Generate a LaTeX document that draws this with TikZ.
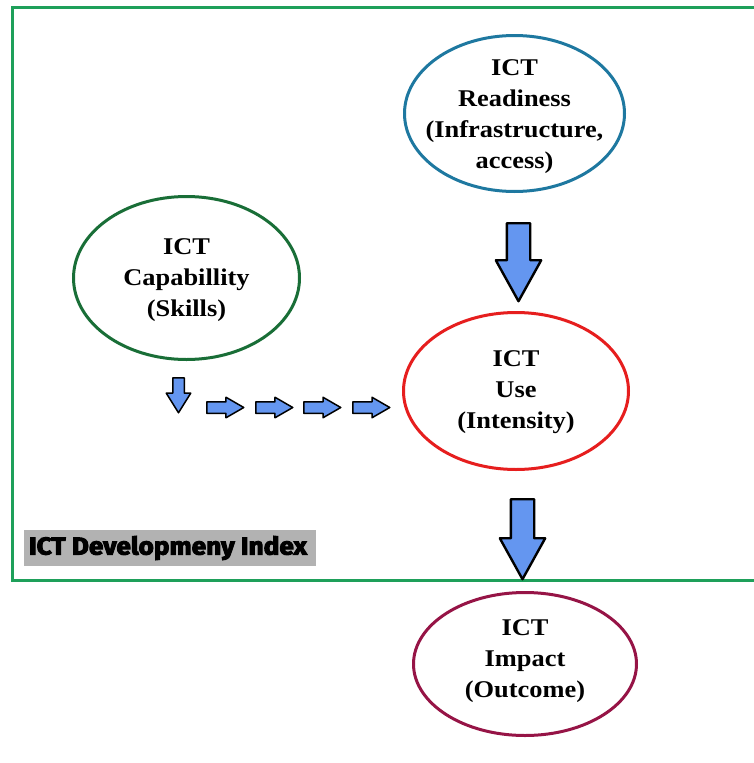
\documentclass[tikz,border=0pt]{standalone}
\usepackage{fontspec}
\setmainfont{Liberation Serif}[FakeStretch=1.1]
\newfontfamily\labelfont{Fira Sans}[FakeStretch=1.07, BoldFeatures={FakeBold=4}]
\usetikzlibrary{shapes.geometric,shapes.arrows}
\definecolor{framegreen}{RGB}{30,160,90}
\definecolor{cblue}{RGB}{30,120,160}
\definecolor{cgreen}{RGB}{25,110,55}
\definecolor{cred}{RGB}{230,30,30}
\definecolor{cmaroon}{RGB}{150,20,70}
\definecolor{arrowblue}{RGB}{100,150,240}
\definecolor{labelgray}{RGB}{178,178,178}
\tikzset{
  bubble/.style={ellipse, line width=3pt, fill=white, inner sep=0pt},
  bubbletext/.style={align=center, inner sep=0pt, font=\fontsize{24}{31}\selectfont\bfseries},
  bigarrow/.style={single arrow, draw=black, fill=arrowblue, line width=2.4pt,
    line join=round, rotate=-90, anchor=tail, inner xsep=0pt,
    inner ysep=10.5pt, single arrow head extend=11pt, single arrow tip angle=58},
  smallarrow/.style={single arrow, draw=black, fill=arrowblue, line width=1.5pt,
    line join=round, anchor=tail, minimum height=37pt, inner xsep=0pt,
    inner ysep=5pt, single arrow head extend=4.5pt, single arrow tip angle=60},
}
\begin{document}
\begin{tikzpicture}[x=1pt,y=-1pt]
\useasboundingbox (0,0) rectangle (754,763);
\begin{scope}
\clip (0,0) rectangle (754,763);
\draw[framegreen, line width=3pt] (12,7) rectangle (780,580);
\end{scope}
\node[fill=labelgray, minimum width=292pt, minimum height=36pt, inner sep=0pt] (lbl) at (170,548) {};
\node[inner sep=0pt] (lbltext) at (168,548)
  {\labelfont\bfseries\fontsize{24.5}{26}\selectfont ICT Developmeny Index};
\node[bubble, draw=cblue, minimum width=220pt, minimum height=156pt] (ready) at (514.5,113.5) {};
\node[bubbletext] (readytext) at (514.5,117) {ICT\\Readiness\\(Infrastructure,\\access)};
\node[bubble, draw=cgreen, minimum width=226pt, minimum height=163pt] (cap) at (186.5,278) {};
\node[bubbletext] (captext) at (186.5,280) {ICT\\Capabillity\\(Skills)};
\node[bubble, draw=cred, minimum width=225pt, minimum height=157pt] (use) at (516,391) {};
\node[bubbletext] (usetext) at (516,392) {ICT\\Use\\(Intensity)};
\node[bubble, draw=cmaroon, minimum width=223pt, minimum height=143pt] (impact) at (525,664) {};
\node[bubbletext] (impacttext) at (525,661) {ICT\\Impact\\(Outcome)};
\node[bigarrow, minimum height=78pt] (a1) at (518.5,222) {};
\node[bigarrow, minimum height=80pt] (a2) at (522.5,498) {};
\node[smallarrow, rotate=-90, minimum height=35pt, single arrow head extend=6.5pt, single arrow tip angle=64] (s0) at (178.5,377) {};
\node[smallarrow] (s1) at (206,407.5) {};
\node[smallarrow] (s2) at (255,407.5) {};
\node[smallarrow] (s3) at (303,407.5) {};
\node[smallarrow] (s4) at (352,407.5) {};
\end{tikzpicture}
\end{document}
